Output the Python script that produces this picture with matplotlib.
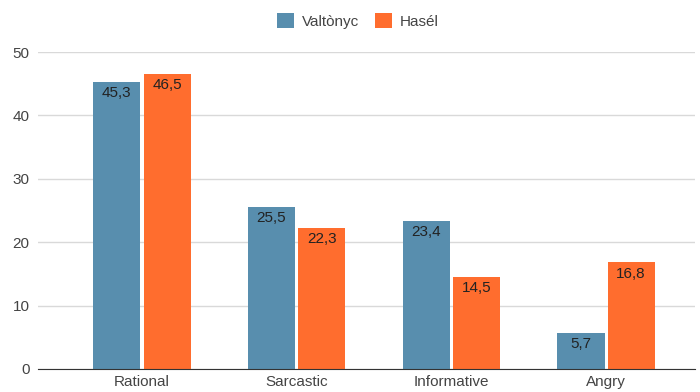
import matplotlib

matplotlib.use("Agg")
import matplotlib.pyplot as plt  # noqa: E402
import numpy as np  # noqa: E402

categories = ["Rational", "Sarcastic", "Informative", "Angry"]
valtonyc = [45.3, 25.5, 23.4, 5.7]
hasel = [46.5, 22.3, 14.5, 16.8]
series_names = ["Valtònyc", "Hasél"]
y_ticks = [0, 10, 20, 30, 40, 50]

BLUE = "#588EAE"
ORANGE = "#FF6D2E"
TEXT = "#444444"
GRID = "#D9D9D9"

plt.rcParams["font.family"] = ["Liberation Sans", "DejaVu Sans"]

fig = plt.figure(figsize=(7.0, 3.92), dpi=100)
ax = fig.add_axes([38 / 700, 1 - 369 / 392, (695 - 38) / 700, (369 - 52) / 392])

x = np.arange(len(categories))
w = 0.305
gap = 0.01
b1 = ax.bar(x - w / 2 - gap, valtonyc, width=w, color=BLUE, zorder=3)
b2 = ax.bar(x + w / 2 + gap, hasel, width=w, color=ORANGE, zorder=3)

for bars, vals in ((b1, valtonyc), (b2, hasel)):
    for rect, v in zip(bars, vals):
        ax.annotate(
            f"{v:.1f}".replace(".", ","),
            (rect.get_x() + rect.get_width() / 2, v),
            xytext=(0, -3), textcoords="offset points",
            ha="center", va="top", fontsize=11, color="#222222", zorder=4,
        )

ax.set_xlim(-0.672, 3.575)
ax.set_ylim(0, 50)
ax.set_yticks(y_ticks)
ax.set_xticks(x)
ax.set_xticklabels(categories)
ax.yaxis.grid(True, color=GRID, linewidth=1, zorder=0)
ax.tick_params(axis="both", length=0, labelsize=11, colors=TEXT, pad=6)
ax.tick_params(axis="x", pad=4)
for s in ("top", "right", "left"):
    ax.spines[s].set_visible(False)
ax.spines["bottom"].set_color("#333333")
ax.spines["bottom"].set_zorder(5)
ax.set_axisbelow(True)

ax.legend(
    [b1, b2], series_names,
    loc="center", bbox_to_anchor=(0.487, 1.098), ncol=2, frameon=False,
    fontsize=11, labelcolor=TEXT, handlelength=1.1, handleheight=1.1,
    columnspacing=1.05, handletextpad=0.5,
)

fig.savefig("out.png", dpi=100, facecolor="white")
